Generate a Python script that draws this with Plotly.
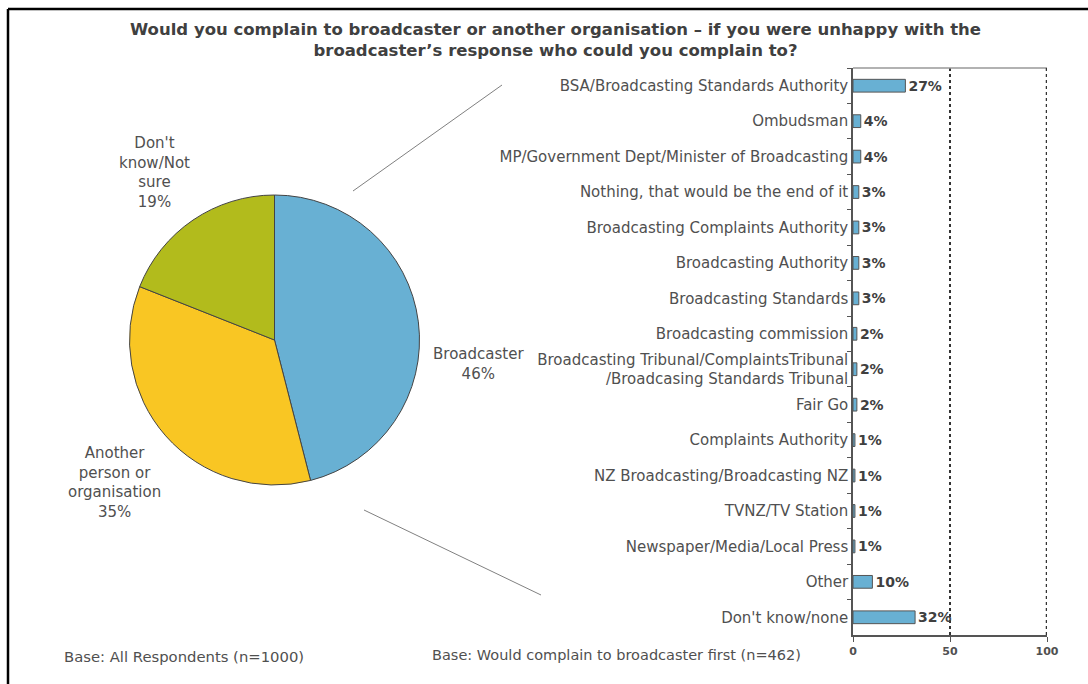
import plotly.graph_objects as go

W, H = 1088, 684

# ---- data ----
pie_labels = ["Broadcaster", "Another person or organisation", "Don't know/Not sure"]
pie_label_text = ["Broadcaster<br>46%", "Another<br>person or<br>organisation<br>35%", "Don't<br>know/Not<br>sure<br>19%"]
pie_values = [46, 35, 19]
pie_colors = ["#68B0D3", "#F9C623", "#B2BB1C"]

bar_categories = [
    "BSA/Broadcasting Standards Authority",
    "Ombudsman",
    "MP/Government Dept/Minister of Broadcasting",
    "Nothing, that would be the end of it",
    "Broadcasting Complaints Authority",
    "Broadcasting Authority",
    "Broadcasting Standards",
    "Broadcasting commission",
    "Broadcasting Tribunal/ComplaintsTribunal<br>/Broadcasing Standards Tribunal",
    "Fair Go",
    "Complaints Authority",
    "NZ Broadcasting/Broadcasting NZ",
    "TVNZ/TV Station",
    "Newspaper/Media/Local Press",
    "Other",
    "Don't know/none",
]
bar_values = [27, 4, 4, 3, 3, 3, 3, 2, 2, 2, 1, 1, 1, 1, 10, 32]
x_ticks = [0, 50, 100]

title_text = ("Would you complain to broadcaster or another organisation \u2013 if you were unhappy with the<br>"
              "broadcaster\u2019s response who could you complain to?")
base_left = "Base: All Respondents (n=1000)"
base_right = "Base: Would complain to broadcaster first (n=462)"

FONT = "DejaVu Sans, Liberation Sans, Arial, sans-serif"
GREY = "#505050"


def px(x):
    return x / W


def py(y):
    return 1 - y / H


fig = go.Figure()

fig.add_trace(go.Pie(
    labels=pie_labels, values=pie_values, sort=False, direction="clockwise", rotation=0,
    marker=dict(colors=pie_colors, line=dict(color="#444444", width=1)),
    textinfo="none", hoverinfo="label+percent", showlegend=False, automargin=False,
    domain=dict(x=[px(129.5), px(419.5)], y=[py(485), py(195)]),
))

fig.add_trace(go.Bar(
    x=bar_values, y=bar_categories, orientation="h",
    marker=dict(color="#68B0D3", line=dict(color="#555555", width=1)),
    text=[f"<b>{v}%</b>" for v in bar_values], textposition="outside",
    constraintext="none",
    textfont=dict(family=FONT, size=14, color="#404040"),
    cliponaxis=False, showlegend=False, xaxis="x", yaxis="y",
))

fig.update_layout(
    template="none",
    width=W, height=H, margin=dict(l=0, r=0, t=0, b=0, pad=0, autoexpand=False),
    paper_bgcolor="white", plot_bgcolor="white",
    bargap=0.64,
    font=dict(family=FONT, color=GREY),
    xaxis=dict(domain=[px(853), px(1047)], range=[0, 100], tickvals=x_ticks,
               ticktext=[f"<b>{t}</b>" for t in x_ticks], automargin=False,
               tickfont=dict(size=11, color=GREY), ticks="outside", ticklen=5,
               tickcolor="#555555", showline=True, linecolor="#555555", linewidth=1.5,
               showgrid=True, gridcolor="#333333", griddash="dot", gridwidth=2,
               zeroline=False, anchor="y"),
    yaxis=dict(domain=[py(635), py(68)], autorange="reversed", type="category",
               automargin=False,
               tickfont=dict(size=15, color=GREY), ticks="outside", ticklen=4,
               tickson="boundaries", tickcolor="#555555",
               showline=True, linecolor="#555555", linewidth=1.5,
               showgrid=False, zeroline=False, anchor="x"),
)

# top border of bar plot area
fig.add_shape(type="line", xref="x", yref="y domain", x0=0, x1=100, y0=1, y1=1,
              line=dict(color="#999999", width=1.5))
# dotted gridline at the right edge of the axis range (x = 100)
fig.add_shape(type="line", xref="x", yref="y domain", x0=x_ticks[-1], x1=x_ticks[-1], y0=0, y1=1,
              line=dict(color="#333333", width=2.5, dash="dot"))

# connector lines between pie and bar
fig.add_shape(type="line", xref="paper", yref="paper", x0=px(353), y0=py(191), x1=px(502), y1=py(85),
              line=dict(color="#808080", width=1))
fig.add_shape(type="line", xref="paper", yref="paper", x0=px(364), y0=py(510), x1=px(541), y1=py(595),
              line=dict(color="#808080", width=1))

# outer frame (left and top edges; right/bottom lie outside the picture)
fig.add_shape(type="line", xref="paper", yref="paper", x0=px(8), y0=py(9), x1=px(8), y1=0,
              line=dict(color="black", width=2.5))
fig.add_shape(type="line", xref="paper", yref="paper", x0=px(8), y0=py(9), x1=1, y1=py(9),
              line=dict(color="black", width=2.5))

# pie labels
label_pos = [(478, 364), (114, 482), (154, 172)]
for txt, (x, y) in zip(pie_label_text, label_pos):
    fig.add_annotation(x=px(x), y=py(y), xref="paper", yref="paper", text=txt, showarrow=False,
                       xanchor="center", yanchor="middle", align="center",
                       font=dict(family=FONT, size=15, color=GREY))

# title
fig.add_annotation(x=px(555), y=py(40), xref="paper", yref="paper", text=f"<b>{title_text}</b>",
                   showarrow=False, xanchor="center", yanchor="middle", align="center",
                   font=dict(family=FONT, size=16.5, color="#404040"))

# base notes
fig.add_annotation(x=px(62), y=py(656), xref="paper", yref="paper", text=base_left, showarrow=False,
                   xanchor="left", yanchor="middle", font=dict(family=FONT, size=14.8, color=GREY))
fig.add_annotation(x=px(430), y=py(655), xref="paper", yref="paper", text=base_right, showarrow=False,
                   xanchor="left", yanchor="middle", font=dict(family=FONT, size=14.5, color=GREY))

fig.write_html("out.html", config={"displayModeBar": False},
               post_script="document.body.style.margin='0';document.body.style.overflow='hidden';")
